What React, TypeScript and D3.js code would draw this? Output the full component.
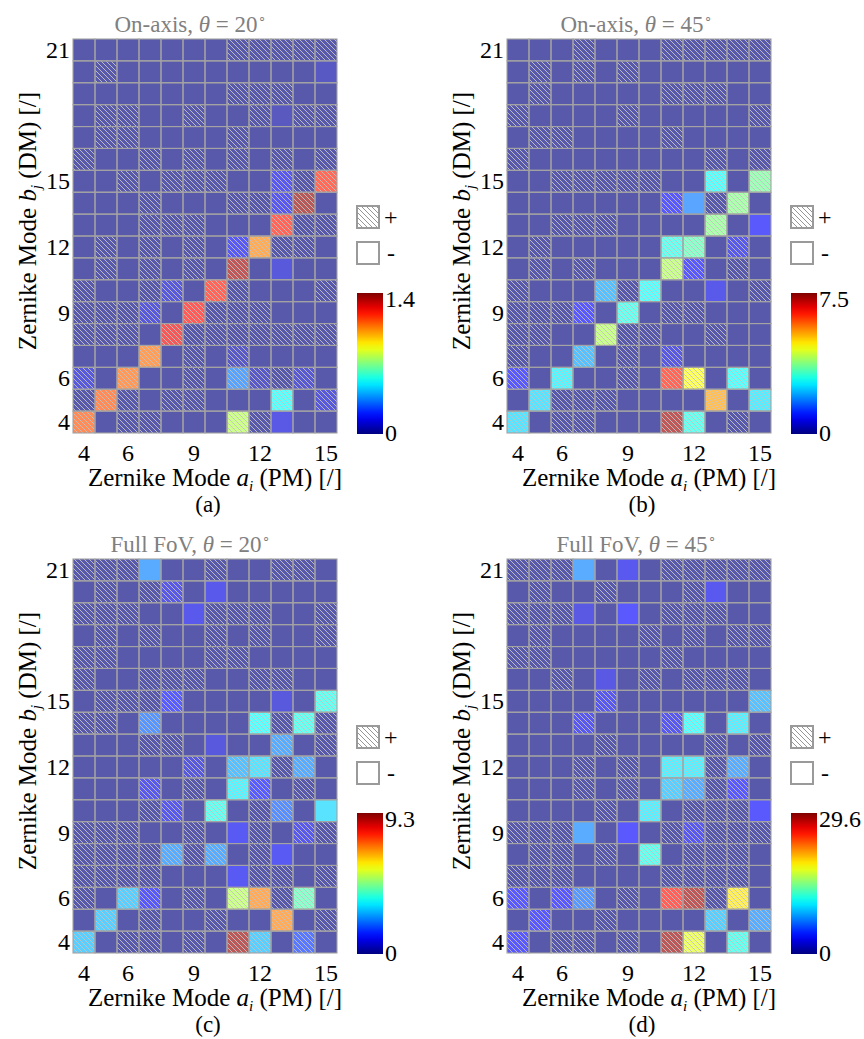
import React from "react";
import * as d3 from "d3";

// modes on each axis
const aModes = [4, 5, 6, 7, 8, 9, 10, 11, 12, 13, 14, 15];
const bModes = [4, 5, 6, 7, 8, 9, 10, 11, 12, 13, 14, 15, 16, 17, 18, 19, 20, 21];
const xTicks = [4, 6, 9, 12, 15];
const yTicks = [4, 6, 9, 12, 15, 21];

// sign maps, rows from b=21 (top) to b=4 (bottom), columns a=4..15; h = "+" (hatched)
const signsA = [
  ".......hhhhh", ".h..........", ".......hhh..", ".hh..h..h.hh", ".hh....h....", "h..h.h.h.h.h",
  "..h.hhh..hhh", "...h...hhhh.", "...hhh...hhh", ".h.h.h.hhhh.", ".h.h.h.h....", "h..hh.hh...h",
  "hhhh.hhhh...", "hhh.hhhhhhhh", "...h.h.h....", "h.h..h.hhhh.", "hhh.hh...h.h", "h.hh...hh...",
];
const signsB = [
  "...h...hhhhh", ".h.h.h......", ".h.....hhh..", "h....h.....h", ".hh....h....", "h........h.h",
  "..hhhhh..h.h", ".......h.hh.", "..hhh....h..", ".h.....hh.h.", ".h.h...hh.h.", "h...hhh....h",
  "hhhh.h.hh...", "hh..hhh..h..", "h..h.h.h....", "h.h..h.hh.h.", ".hhhh....h.h", "h.hh...hh.h.",
];
const signsC = [
  "hhh...h..hh.", ".h.hh.......", "hhh...hhh..h", ".h.h..h.h..h", "hh....hh....", "h..hhh..hh..",
  ".hhhh......h", "hh.h....hhhh", "...hh....h.h", ".....h.hhhh.", "...h.h.hh.h.", "...hh.h.hh..",
  "hhh..h..h.hh", "hhhhhhh.h...", "hhhh....hh.h", "h.hh.h.hhhh.", ".h.h..h..h.h", "h.hh.h.hh.h.",
];
const signsD = [
  "hhh....hhhhh", ".h..h...h...", "hhh....hhh..", ".h....h.h.hh", "hh.....h....", "..h...h.hhh.",
  "....h......h", "...h...hh.h.", "....h....h.h", "...h.h.hhhh.", "...h.h.hhhh.", "....h.h.hhh.",
  "hhh....hhhhh", ".hh.h.h.hhh.", "hhh....hhhh.", "h.hh.h.hhhh.", ".h..h....h.h", "h.hh.h.hh.h.",
];

// magnitudes [a, b, value]; cells not listed are ~0
const valuesA: [number, number, number][] = [
  [4, 4, 1.12], [5, 5, 1.12], [6, 6, 1.09], [7, 7, 1.08], [8, 8, 1.25], [9, 9, 1.22],
  [10, 10, 1.2], [11, 11, 1.36], [12, 12, 1.05], [13, 13, 1.2], [14, 14, 1.38], [15, 15, 1.19],
  [11, 4, 0.77], [13, 5, 0.53], [11, 6, 0.33], [11, 12, 0.15], [13, 15, 0.14], [13, 14, 0.14],
  [13, 11, 0.1], [13, 4, 0.12], [15, 5, 0.1], [7, 9, 0.1], [8, 10, 0.1], [4, 6, 0.1],
  [14, 6, 0.08], [12, 6, 0.06], [11, 7, 0.06], [15, 20, 0.05], [13, 18, 0.04],
];
const valuesB: [number, number, number][] = [
  [11, 4, 7.3], [13, 5, 5.4], [11, 6, 6.4], [12, 6, 4.65], [12, 4, 3.0], [4, 4, 2.5],
  [5, 5, 2.5], [6, 6, 2.7], [7, 7, 2.1], [8, 8, 4.1], [9, 9, 3.0], [10, 10, 2.85],
  [11, 11, 4.1], [11, 12, 3.0], [12, 12, 3.4], [13, 13, 3.75], [14, 14, 3.75], [13, 15, 2.85],
  [15, 15, 3.6], [14, 6, 2.85], [15, 5, 2.6], [8, 10, 2.1], [11, 14, 0.9], [12, 14, 1.8],
  [4, 6, 0.9], [7, 9, 0.9], [13, 10, 0.7], [12, 11, 0.9], [15, 13, 0.9], [14, 12, 0.7], [11, 7, 0.6],
];
const valuesC: [number, number, number][] = [
  [11, 4, 9.1], [13, 5, 7.0], [12, 6, 7.0], [11, 6, 5.1], [14, 6, 4.2], [4, 4, 2.8],
  [5, 5, 2.8], [6, 6, 2.8], [12, 4, 2.8], [10, 10, 3.7], [15, 10, 3.1], [8, 8, 2.3],
  [10, 8, 2.3], [11, 11, 3.35], [11, 12, 2.6], [12, 12, 3.1], [14, 12, 2.3], [13, 13, 2.3],
  [12, 14, 3.5], [14, 14, 3.7], [15, 15, 3.7], [7, 21, 2.3], [7, 14, 2.0], [8, 15, 1.2],
  [11, 9, 1.0], [13, 8, 1.0], [11, 7, 1.0], [14, 4, 1.6], [7, 6, 1.1], [10, 20, 0.9],
  [9, 19, 0.9], [12, 11, 1.2], [13, 10, 1.9], [7, 11, 0.9], [8, 10, 0.9], [14, 9, 0.9],
  [9, 12, 0.7], [10, 13, 0.7], [13, 15, 0.7], [8, 20, 0.8],
];
const valuesD: [number, number, number][] = [
  [11, 6, 25.6], [12, 6, 28.8], [14, 6, 19.2], [11, 4, 29.0], [12, 4, 17.8], [14, 4, 11.8],
  [13, 5, 8.9], [15, 5, 7.4], [4, 4, 3.6], [5, 5, 3.6], [6, 6, 3.6], [7, 6, 6.5], [4, 6, 3.6],
  [10, 8, 11.8], [10, 10, 10.4], [7, 9, 7.4], [9, 9, 3.6], [12, 9, 3.0], [15, 10, 3.6],
  [11, 11, 8.9], [12, 11, 7.4], [14, 11, 3.6], [11, 12, 10.4], [12, 12, 10.4], [14, 12, 7.4],
  [11, 14, 3.0], [12, 14, 11.2], [14, 14, 10.4], [15, 15, 8.3], [8, 15, 3.0], [7, 14, 3.0],
  [7, 21, 7.4], [9, 21, 3.0], [13, 20, 3.0], [7, 19, 2.5], [9, 19, 3.6], [8, 16, 2.5],
];

const gridW = 264;
const gridH = 394;
const font = "'Liberation Serif', 'Times New Roman', serif";

function jet(t: number) {
  const c = (v: number) => Math.max(0, Math.min(1, v));
  const r = c(1.5 - Math.abs(4 * t - 3));
  const g = c(1.5 - Math.abs(4 * t - 2));
  const b = c(1.5 - Math.abs(4 * t - 1));
  return d3.rgb(r * 255, g * 255, b * 255).formatHex();
}

type PanelDef = {
  left: number;
  top: number;
  titleX: number;
  kind: string;
  angle: string;
  vmax: number;
  signs: string[];
  values: [number, number, number][];
  tag: string;
};

const panels: PanelDef[] = [
  { left: 73, top: 39, titleX: 190, kind: "On-axis", angle: "20", vmax: 1.4, signs: signsA, values: valuesA, tag: "(a)" },
  { left: 507, top: 39, titleX: 636, kind: "On-axis", angle: "45", vmax: 7.5, signs: signsB, values: valuesB, tag: "(b)" },
  { left: 73, top: 559, titleX: 190, kind: "Full FoV", angle: "20", vmax: 9.3, signs: signsC, values: valuesC, tag: "(c)" },
  { left: 507, top: 559, titleX: 636, kind: "Full FoV", angle: "45", vmax: 29.6, signs: signsD, values: valuesD, tag: "(d)" },
];

function Panel({ p }: { p: PanelDef }) {
  const x = d3.scaleBand<number>().domain(aModes).range([p.left, p.left + gridW]);
  const y = d3.scaleBand<number>().domain([...bModes].reverse()).range([p.top, p.top + gridH]);
  const vals = new Map(p.values.map(([a, b, v]) => [`${a}-${b}`, v]));
  const blend = (v: number) => d3.interpolateRgb("#ffffff", jet(v / p.vmax))(0.65);
  const lx = p.left + gridW + 20;
  const cx = p.left + gridW / 2;
  return (
    <g style={{ fontFamily: font }}>
      <text x={p.titleX} y={p.top - 7} fontSize={23} fill="#808080" textAnchor="middle">
        {p.kind}, <tspan fontStyle="italic">θ</tspan> = {p.angle}
        <tspan dy={-10} fontSize={13}>∘</tspan>
      </text>
      {bModes.map((b) =>
        aModes.map((a) => {
          const v = vals.get(`${a}-${b}`) ?? 0;
          const plus = p.signs[21 - b][a - 4] === "h";
          return (
            <g key={`${a}-${b}`}>
              <rect x={x(a)} y={y(b)} width={x.bandwidth()} height={y.bandwidth()} fill={blend(v)} />
              {plus && (
                <rect x={x(a)} y={y(b)} width={x.bandwidth()} height={y.bandwidth()} fill="url(#hatch)" />
              )}
            </g>
          );
        })
      )}
      {bModes.map((b) =>
        aModes.map((a) => (
          <rect key={`g${a}-${b}`} x={x(a)} y={y(b)} width={x.bandwidth()} height={y.bandwidth()}
            fill="none" stroke="#a3a3a3" strokeWidth={1.1} />
        ))
      )}
      {xTicks.map((t) => (
        <text key={`x${t}`} x={(x(t) ?? 0) + x.bandwidth() / 2} y={p.top + 422} fontSize={24} textAnchor="middle">
          {t}
        </text>
      ))}
      {yTicks.map((t) => (
        <text key={`y${t}`} x={p.left - 3} y={(y(t) ?? 0) + y.bandwidth() / 2 + 8} fontSize={24} textAnchor="end">
          {t}
        </text>
      ))}
      <text x={cx + 10} y={p.top + 447} fontSize={25} textAnchor="middle">
        Zernike Mode <tspan fontStyle="italic">a</tspan>
        <tspan fontStyle="italic" fontSize={15} dy={5}>i</tspan>
        <tspan dy={-5}> (PM) [/]</tspan>
      </text>
      <text transform={`translate(${p.left - 37},${p.top + 182}) rotate(-90)`} fontSize={25} textAnchor="middle">
        Zernike Mode <tspan fontStyle="italic">b</tspan>
        <tspan fontStyle="italic" fontSize={15} dy={5}>j</tspan>
        <tspan dy={-5}> (DM) [/]</tspan>
      </text>
      <text x={cx + 3} y={p.top + 473} fontSize={23} textAnchor="middle">{p.tag}</text>

      {/* legend */}
      <rect x={lx} y={p.top + 167} width={22} height={22} fill="#fff" />
      <rect x={lx} y={p.top + 167} width={22} height={22} fill="url(#hatchLegend)" />
      <rect x={lx} y={p.top + 167} width={22} height={22} fill="none" stroke="#9a9a9a" strokeWidth={2} />
      <text x={lx + 27} y={p.top + 186} fontSize={24}>+</text>
      <rect x={lx} y={p.top + 203} width={22} height={22} fill="#fff" stroke="#9a9a9a" strokeWidth={2} />
      <text x={lx + 30} y={p.top + 222} fontSize={24}>-</text>
      <rect x={lx} y={p.top + 254} width={26} height={141} fill="url(#jetGrad)" />
      <text x={lx + 28} y={p.top + 268} fontSize={24}>{p.vmax}</text>
      <text x={lx + 28} y={p.top + 402} fontSize={24}>0</text>
    </g>
  );
}

export default function App() {
  const stops = d3.range(0, 1.0001, 0.05);
  return (
    <svg width={864} height={1039} style={{ position: "absolute", left: 0, top: 0, background: "#fff" }}>
      <defs>
        <pattern id="hatch" patternUnits="userSpaceOnUse" width={5} height={5}>
          <path d="M0,0 L5,5 M-1,4 L1,6 M4,-1 L6,1" stroke="#c4c4c4" strokeWidth={0.9} />
        </pattern>
        <pattern id="hatchLegend" patternUnits="userSpaceOnUse" width={5} height={5}>
          <path d="M0,0 L5,5 M-1,4 L1,6 M4,-1 L6,1" stroke="#8a8a8a" strokeWidth={0.9} />
        </pattern>
        <linearGradient id="jetGrad" x1="0" y1="1" x2="0" y2="0">
          {stops.map((t) => (
            <stop key={t} offset={t} stopColor={jet(t)} />
          ))}
        </linearGradient>
      </defs>
      {panels.map((p) => (
        <Panel key={p.tag} p={p} />
      ))}
    </svg>
  );
}
